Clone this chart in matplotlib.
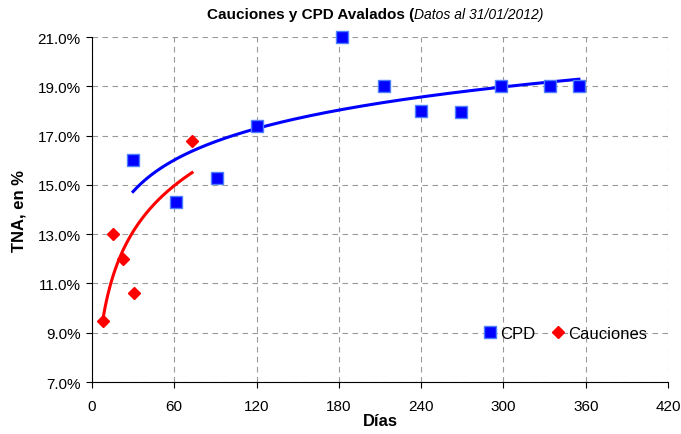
import numpy as np
from matplotlib import pyplot as plt
from matplotlib.ticker import FuncFormatter

plt.rcParams['font.family'] = ['Liberation Sans', 'DejaVu Sans']

# CPD avalados (dias, TNA %)
cpd_dias = [30, 61, 91, 120, 182, 213, 240, 269, 298, 334, 355]
cpd_tna = [16.0, 14.3, 15.27, 17.38, 21.0, 19.02, 18.0, 17.97, 19.02, 19.02, 19.02]

# Cauciones (dias, TNA %)
cau_dias = [8, 15, 23, 31, 73]
cau_tna = [9.49, 13.0, 12.0, 10.6, 16.77]

x_ticks = [0, 60, 120, 180, 240, 300, 360, 420]
y_ticks = [7, 9, 11, 13, 15, 17, 19, 21]


def log_trend(x, y):
    # tendencia logaritmica como la de Excel
    a, b = np.polyfit(np.log(x), y, 1)
    xs = np.linspace(min(x), max(x), 200)
    return xs, a * np.log(xs) + b


fig = plt.figure(figsize=(6.81, 4.35), dpi=100)
ax = fig.add_axes([0.135, 0.1195, 0.846, 0.7931])

xs, ys = log_trend(cpd_dias, cpd_tna)
ax.plot(xs, ys, color='#0000FF', lw=2.2, zorder=3)
xs, ys = log_trend(cau_dias, cau_tna)
ax.plot(xs, ys, color='#FF0000', lw=2.2, zorder=3)

ax.plot(cpd_dias, cpd_tna, 's', color='#0000FF', mec='#4D7FFF', mew=1.0,
        ms=8.5, ls='none', label='CPD', zorder=4, clip_on=False)
ax.plot(cau_dias, cau_tna, 'D', color='#FF0000', mec='#FF0000',
        ms=6, ls='none', label='Cauciones', zorder=4, clip_on=False)

ax.set_xlim(0, 420)
ax.set_ylim(7, 21)
ax.set_xticks(x_ticks)
ax.set_yticks(y_ticks)
ax.yaxis.set_major_formatter(FuncFormatter(lambda v, p: '%.1f%%' % v))
ax.tick_params(axis='x', direction='out', length=4, labelsize=11, pad=8)
ax.tick_params(axis='y', direction='out', length=4, labelsize=11, pad=4)

ax.grid(True, color='#999999', ls=(0, (5, 4)), lw=0.8)
ax.set_axisbelow(True)
for s in ('top', 'right'):
    ax.spines[s].set_visible(False)

ax.set_xlabel('Días', fontsize=12, fontweight='bold', labelpad=0)
ax.set_ylabel('TNA, en %', fontsize=12, fontweight='bold', labelpad=8)

ax.legend(loc='lower right', bbox_to_anchor=(0.99, 0.075), ncol=2,
          frameon=False, fontsize=12, handlelength=0.8,
          handletextpad=0.2, columnspacing=1.0)

t1 = fig.text(207 / 681, 1 - 15 / 435, 'Cauciones y CPD Avalados (',
              fontsize=11, fontweight='bold', ha='left', va='center')
ax.annotate('Datos al 31/01/2012)', xy=(1, 0), xycoords=t1,
            xytext=(0, 0), textcoords='offset points', fontsize=10,
            style='italic', ha='left', va='bottom')

fig.savefig('out.png', dpi=100)
